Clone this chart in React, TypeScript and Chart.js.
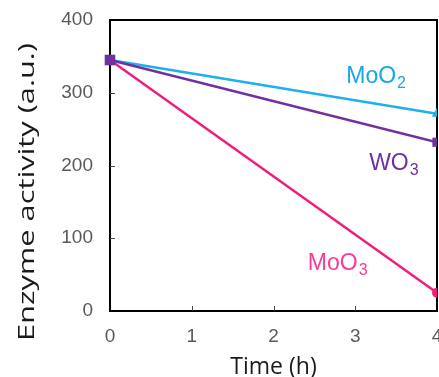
import React, { useEffect, useRef } from 'react';
import { Chart, registerables } from 'chart.js';

Chart.register(...registerables);

// ---- data ----
const timeHours = [0, 4];
const moo2Values = [345, 271];
const wo3Values = [345, 232];
const moo3Values = [345, 25];
const xTickValues = [0, 1, 2, 3, 4];
const yTickValues = [0, 100, 200, 300, 400];
const seriesNames = ['MoO2', 'WO3', 'MoO3'];
const labelBase = ['MoO', 'WO', 'MoO'];
const labelSub = ['2', '3', '3'];
const labelX = [2.89, 3.17, 2.42];
const labelY = [313, 194, 56];
const xTitle = 'Time (h)';
const yTitle = 'Enzyme activity (a.u.)';

const colMoO2 = '#1DB0EA';
const colWO3 = '#7030A0';
const colMoO3 = '#F01E78';
const labelColors = ['#1AA6E2', '#7030A0', '#FA3C96'];

const framePlugin = {
  id: 'frame',
  beforeDatasetsDraw(chart: any) {
    const { ctx, chartArea, scales } = chart;
    const { left, right, top, bottom } = chartArea;
    ctx.save();
    ctx.strokeStyle = '#000';
    ctx.lineWidth = 2;
    ctx.strokeRect(left, top, right - left, bottom - top);
    ctx.lineWidth = 1;
    ctx.strokeStyle = '#444';
    xTickValues.slice(1, -1).forEach((v) => {
      const px = Math.round(scales.x.getPixelForValue(v)) + 0.5;
      ctx.beginPath();
      ctx.moveTo(px, bottom);
      ctx.lineTo(px, bottom - 5);
      ctx.stroke();
    });
    yTickValues.slice(1, -1).forEach((v) => {
      const py = Math.round(scales.y.getPixelForValue(v)) + 0.5;
      ctx.beginPath();
      ctx.moveTo(left, py);
      ctx.lineTo(left + 5, py);
      ctx.stroke();
    });
    ctx.restore();
  },
  afterDatasetsDraw(chart: any) {
    const { ctx, scales } = chart;
    ctx.save();
    ctx.textBaseline = 'alphabetic';
    ctx.textAlign = 'left';
    for (let i = 0; i < seriesNames.length; i++) {
      const px = scales.x.getPixelForValue(labelX[i]);
      const py = scales.y.getPixelForValue(labelY[i]);
      ctx.fillStyle = labelColors[i];
      ctx.font = '23px "Liberation Sans", Arial, sans-serif';
      ctx.fillText(labelBase[i], px, py);
      const w = ctx.measureText(labelBase[i]).width;
      ctx.font = '16px "Liberation Sans", Arial, sans-serif';
      ctx.fillText(labelSub[i], px + w + 1, py + 5);
    }
    // y axis title (stretched along its length)
    ctx.font = '21px "Open Sans", sans-serif';
    ctx.fillStyle = '#1a1a1a';
    ctx.textAlign = 'center';
    ctx.textBaseline = 'middle';
    const tw = ctx.measureText(yTitle).width;
    const sx = 298 / tw;
    ctx.translate(28, 192);
    ctx.rotate(-Math.PI / 2);
    ctx.scale(sx, 1);
    ctx.fillText(yTitle, 0, 0);
    ctx.restore();
  },
};

export default function App() {
  const canvasRef = useRef<HTMLCanvasElement | null>(null);

  useEffect(() => {
    if (!canvasRef.current) return;
    const tickFont = { family: '"Liberation Sans", Arial, sans-serif', size: 19 };
    const clip = { left: false, top: false, right: 0, bottom: false } as any;
    const chart = new Chart(canvasRef.current, {
      type: 'line',
      data: {
        datasets: [
          {
            label: seriesNames[1],
            data: timeHours.map((t, i) => ({ x: t, y: wo3Values[i] })),
            borderColor: colWO3,
            backgroundColor: colWO3,
            borderWidth: 2.5,
            pointStyle: 'rect',
            pointRadius: [7.5, 6.5],
            pointBorderWidth: 0,
            clip,
          },
          {
            label: seriesNames[0],
            data: timeHours.map((t, i) => ({ x: t, y: moo2Values[i] })),
            borderColor: colMoO2,
            backgroundColor: colMoO2,
            borderWidth: 2.5,
            pointStyle: 'triangle',
            pointRadius: [5, 6],
            pointBorderWidth: 0,
            clip,
          },
          {
            label: seriesNames[2],
            data: timeHours.map((t, i) => ({ x: t, y: moo3Values[i] })),
            borderColor: colMoO3,
            backgroundColor: colMoO3,
            borderWidth: 2.5,
            pointStyle: 'circle',
            pointRadius: [4, 5],
            pointBorderWidth: 0,
            clip,
          },
        ],
      },
      options: {
        animation: false,
        responsive: true,
        maintainAspectRatio: false,
        layout: { autoPadding: false, padding: { left: 0, top: 20, right: 2, bottom: 0 } } as any,
        plugins: { legend: { display: false }, tooltip: { enabled: false } },
        scales: {
          x: {
            type: 'linear',
            min: 0,
            max: 4,
            grid: { display: false, drawTicks: false },
            border: { display: false },
            ticks: {
              stepSize: 1,
              color: '#595959',
              font: tickFont,
              padding: 14,
              maxRotation: 0,
            },
            title: {
              display: true,
              text: xTitle,
              color: '#1a1a1a',
              font: { family: '"Open Sans", sans-serif', size: 23, lineHeight: 1 },
              padding: { top: 0, bottom: -2 },
            },
            afterFit: (s: any) => {
              s.height = 66;
              s.paddingLeft = 0;
              s.paddingRight = 0;
            },
          },
          y: {
            min: 0,
            max: 400,
            grid: { display: false, drawTicks: false },
            border: { display: false },
            ticks: {
              stepSize: 100,
              color: '#595959',
              font: tickFont,
              padding: 17,
            },
            afterFit: (s: any) => {
              s.width = 110;
              s.paddingTop = 0;
              s.paddingBottom = 0;
            },
          },
        },
      },
      plugins: [framePlugin],
    });
    return () => chart.destroy();
  }, []);

  return (
    <div style={{ position: 'fixed', left: 0, top: 0, width: 439, height: 377, background: '#fff' }}>
      <canvas ref={canvasRef} />
    </div>
  );
}
